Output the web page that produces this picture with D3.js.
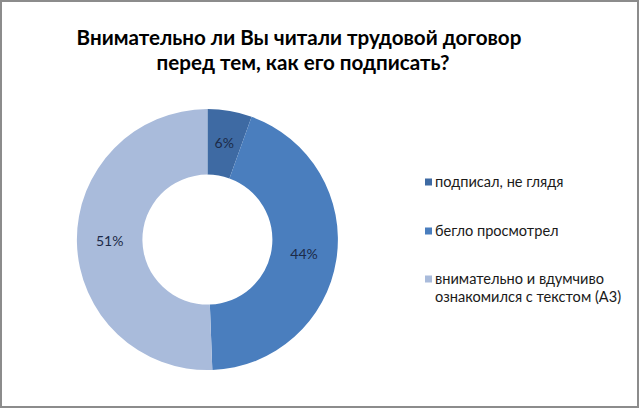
<!DOCTYPE html>
<html><head><meta charset="utf-8">
<script src="https://cdn.jsdelivr.net/npm/d3@7"></script>
<style>body{margin:0;background:#fff}svg{display:block}</style>
</head><body>
<svg id="c" width="640" height="410"></svg>
<script>
const titleLines = ["Внимательно ли Вы читали трудовой договор", "перед тем, как его подписать?"];
const categories = ["подписал, не глядя", "бегло просмотрел", "внимательно и вдумчиво ознакомился с текстом (А3)"];
const legendLines = [["подписал, не глядя"], ["бегло просмотрел"], ["внимательно и вдумчиво", "ознакомился с текстом (А3)"]];
const values = [5.5, 43.9, 50.6];
const labels = ["6%", "44%", "51%"];
const colors = ["#3e6aa3", "#4a7ebe", "#a9bbdb"];

const svg = d3.select("#c");
const font = "Lato, 'Open Sans', sans-serif";

svg.append("rect").attr("x",1).attr("y",1).attr("width",637).attr("height",406)
  .attr("fill","#fff").attr("stroke","#8c8c8c").attr("stroke-width",2);

svg.selectAll("text.title").data(titleLines).join("text")
  .attr("class","title")
  .attr("x", (d,i)=> i===0 ? 299 : 303)
  .attr("y", (d,i)=> 45 + i*25)
  .attr("text-anchor","middle")
  .attr("font-family", font).attr("font-weight","bold").attr("font-size", 20.6)
  .attr("fill","#000").text(d=>d);

const cx = 207.4, cy = 239.6, rOut = 130.5, rIn = 65;
const pie = d3.pie().sort(null).value(d=>d);
const arc = d3.arc().innerRadius(rIn).outerRadius(rOut);
const g = svg.append("g").attr("transform",`translate(${cx},${cy})`);
const arcs = pie(values);
g.selectAll("path").data(arcs).join("path")
  .attr("d", arc).attr("fill",(d,i)=>colors[i]);
g.selectAll("text").data(arcs).join("text")
  .attr("transform", d=>`translate(${arc.centroid(d)})`)
  .attr("text-anchor","middle").attr("dy","0.35em")
  .attr("font-family", font).attr("font-size", 14).attr("fill","#1c2a48")
  .text((d,i)=>labels[i]);

const legY = [182, 231, 279];
const lg = svg.append("g");
categories.forEach((c,i)=>{
  lg.append("rect").attr("x",425).attr("y",legY[i]-3.5).attr("width",7).attr("height",7).attr("fill",colors[i]);
  legendLines[i].forEach((ln,j)=>{
    lg.append("text").attr("x",435).attr("y",legY[i]+j*18).attr("dy","0.35em")
      .attr("font-family", font).attr("font-size",14.6).attr("fill","#1a1a1a").text(ln);
  });
});
</script>
</body></html>
